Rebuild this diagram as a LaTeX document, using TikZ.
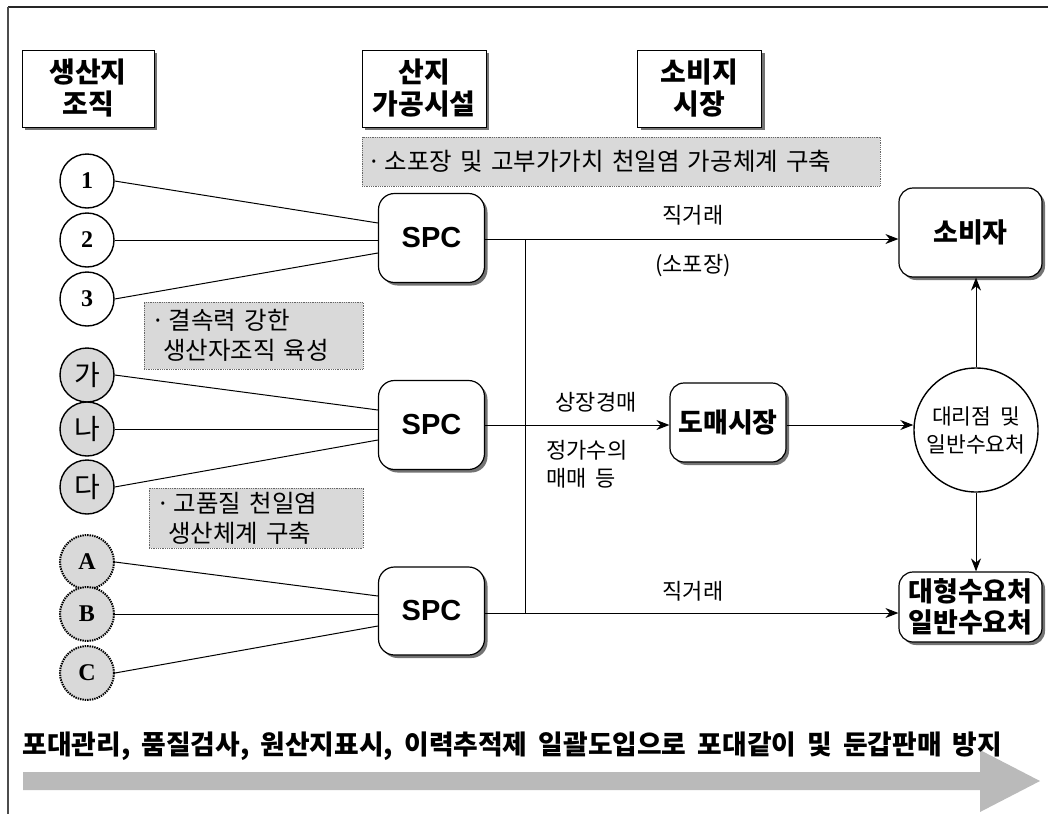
\documentclass[tikz,border=0pt]{standalone}
\usepackage{fontspec}
\setmainfont{Liberation Serif}
\newfontfamily\kr{Noto Sans CJK KR}[WordSpace={1.8}]
\newfontfamily\arialb{Liberation Sans}
\usetikzlibrary{arrows.meta,shadows,calc}
\begin{document}
\begin{tikzpicture}[x=1pt,y=1pt,
  line width=1pt,
  tip/.style={-{Stealth[length=13pt,width=10pt]}},
  shade3/.style={general shadow={fill=black!55, shadow xshift=3pt, shadow yshift=-3pt}},
  hdr/.style={draw, fill=white, shade3, line width=1pt, minimum width=132pt, minimum height=77pt,
    align=center, font=\kr\bfseries\fontsize{28}{32}\selectfont, inner sep=0pt},
  note/.style={draw=black!60, densely dotted, fill=black!15, line width=0.8pt, inner sep=0pt,
    font=\kr\fontsize{24.5}{30}\selectfont},
  org/.style={circle, draw, line width=1.4pt, minimum size=54pt, inner sep=0pt,
    font=\bfseries\fontsize{24}{24}\selectfont},
  orggray/.style={org, fill=black!15, font=\kr\fontsize{28}{28}\selectfont},
  orgdot/.style={org, fill=black!15, densely dotted, line width=2pt},
  spc/.style={draw, fill=white, rounded corners=16pt, shade3, line width=1.2pt,
    minimum width=106pt, minimum height=89pt, font=\arialb\bfseries\fontsize{29}{29}\selectfont},
  dest/.style={draw, fill=white, rounded corners=14pt, shade3, line width=1.2pt, align=center,
    font=\kr\bfseries\fontsize{27}{31}\selectfont, inner sep=0pt},
  lbl/.style={font=\kr\fontsize{22}{28}\selectfont, inner sep=0pt}]

\useasboundingbox (0,0) rectangle (1048,-814);

% frame edges
\draw[line width=2pt, black!85] (8,-7) -- (1048,-7);
\draw[line width=1.2pt, black!70] (8,-7) -- (8,-814);

% column headings
\node[hdr] (h1) at (88,-88.5) {생산지\\조직};
\node[hdr, minimum width=124pt] (h2) at (424,-88.5) {산지\\가공시설};
\node[hdr, minimum width=124pt] (h3) at (699.5,-88.5) {소비지\\시장};

% policy notes
\node[note, minimum width=518pt, minimum height=49pt, text width=508pt, align=left] (n1) at (621,-161.5)
  {·\,소포장 및 고부가가치 천일염 가공체계 구축};
\node[note, minimum width=219pt, minimum height=67pt, text width=205pt, align=left] (n2) at (253.5,-335.5)
  {·\,결속력 강한\\\hspace*{12pt}생산자조직 육성};
\node[note, minimum width=214pt, minimum height=60pt, text width=200pt, align=left] (n3) at (256,-518)
  {·\,고품질 천일염\\\hspace*{12pt}생산체계 구축};

% producer groups
\node[org] (c1) at (87,-181) {1};
\node[org] (c2) at (87,-240) {2};
\node[org] (c3) at (87,-299) {3};
\node[orggray] (g1) at (87,-375) {가};
\node[orggray] (g2) at (87,-429) {나};
\node[orggray] (g3) at (87,-487) {다};
\node[orgdot] (d1) at (87,-562) {A};
\node[orgdot] (d2) at (87,-614) {B};
\node[orgdot] (d3) at (87,-673) {C};

% processing centres
\node[spc] (s1) at (431.5,-238) {SPC};
\node[spc] (s2) at (431.5,-425) {SPC};
\node[spc, minimum height=88pt] (s3) at (431.5,-611) {SPC};

% producers to SPC
\draw (c1.east) -- ($(s1.west)+(0,15)$);
\draw (c2.east) -- (s1.west |- c2.east);
\draw (c3.east) -- ($(s1.west)+(0,-15)$);
\draw (g1.east) -- ($(s2.west)+(0,15)$);
\draw (g2.east) -- (s2.west |- g2.east);
\draw (g3.east) -- ($(s2.west)+(0,-15)$);
\draw (d1.east) -- ($(s3.west)+(0,15)$);
\draw (d2.east) -- (s3.west |- d2.east);
\draw (d3.east) -- ($(s3.west)+(0,-15)$);

% market side
\node[dest, minimum width=143pt, minimum height=89pt] (cons) at (970.5,-232.5) {소비자};
\node[dest, minimum width=143pt, minimum height=70pt] (big) at (970.5,-607) {대형수요처\\일반수요처};
\node[dest, minimum width=116pt, minimum height=79pt] (whs) at (728,-422.5) {도매시장};
\node[circle, draw, fill=white, line width=1.4pt, minimum size=124pt, inner sep=0pt, align=center,
  font=\kr\fontsize{21.5}{28}\selectfont] (ag) at (976,-430) {대리점 및\\일반수요처};

% flows
\coordinate (j1) at (525,-239);
\coordinate (j3) at (525,-613);
\draw[tip] (s1.east |- j1) -- (cons.west |- j1);
\draw (j1) -- (j3);
\draw[tip] (s3.east |- j3) -- (big.west |- j3);
\draw[tip] (s2.east |- 0,-425) -- (whs.west |- 0,-425);
\draw[tip] (whs.east |- 0,-425) -- (ag.west |- 0,-425);
\draw[tip] (ag.north) -- (cons.south -| ag.north);
\draw[tip] (ag.south) -- (big.north -| ag.south);

% flow labels
\node[lbl] (l1) at (693,-215) {직거래};
\node[lbl] (l2) at (693,-266) {(소포장)};
\node[lbl] (l3) at (596,-402) {상장경매};
\node[lbl, anchor=west, align=left] (l4) at (546,-464) {정가수의\\매매 등};
\node[lbl] (l5) at (693,-591) {직거래};

% bottom banner
\fill[black!27] (23,-772) -- (980,-772) -- (980,-750) -- (1040,-781) -- (980,-812) -- (980,-790) -- (23,-790) -- cycle;
\node[anchor=west, inner sep=0pt, font=\kr\bfseries\fontsize{26.8}{27}\selectfont] (ban) at (22,-746)
  {포대관리, 품질검사, 원산지표시, 이력추적제 일괄도입으로 포대같이 및 둔갑판매 방지};
\end{tikzpicture}
\end{document}
